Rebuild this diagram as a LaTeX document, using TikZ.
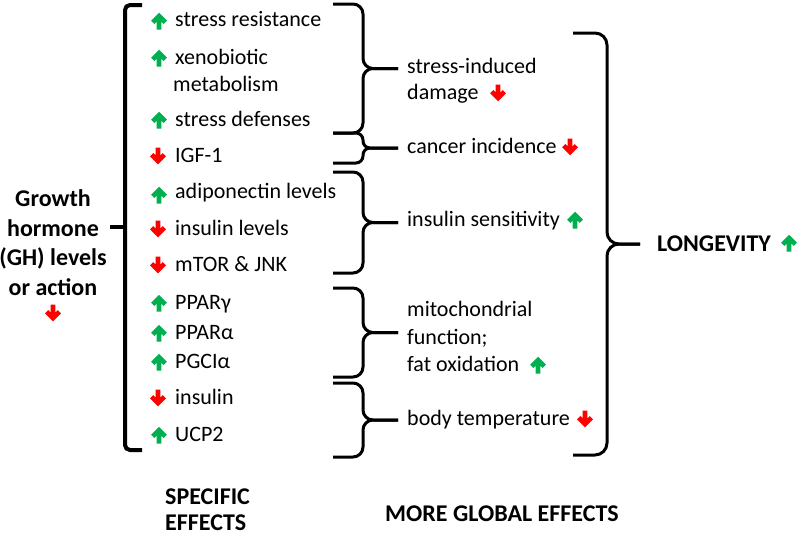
\documentclass[tikz,border=0pt]{standalone}
\usepackage{fontspec}
\setmainfont{Carlito}
\definecolor{upg}{RGB}{0,176,80}
\definecolor{dnr}{RGB}{255,0,0}
\tikzset{
  txt/.style={font=\fontsize{22}{26}\selectfont, inner sep=0pt, anchor=base west},
  bld/.style={font=\fontsize{24}{29}\selectfont\bfseries, inner sep=0pt, anchor=base west},
  bldc/.style={bld, anchor=base},
  brc/.style={line width=3pt, rounded corners=#1, line join=round},
  brk/.style={line width=4pt, rounded corners=5pt},
  uparr/.pic={\draw[upg, line width=4.6pt, line join=miter] (-6.3,-1.3) -- (0,5) -- (6.3,-1.3) (0,5) -- (0,-8.5);},
  dnarr/.pic={\draw[dnr, line width=4.6pt, line join=miter] (-6.3,1.3) -- (0,-5) -- (6.3,1.3) (0,-5) -- (0,8.5);}
}
% right-facing curly brace: x0, spine x, tip x, top y, bottom y, radius (y in px, downward)
\newcommand\rbr[6]{%
  \draw[brc=#6pt] (#1,-#4) -- (#2,-#4) -- (#2,{-(#4+#5)/2}) -- (#3,{-(#4+#5)/2});
  \draw[brc=#6pt] (#1,-#5) -- (#2,-#5) -- (#2,{-(#4+#5)/2}) -- (#3,{-(#4+#5)/2});
}
\begin{document}
\begin{tikzpicture}[x=1pt,y=1pt]
\useasboundingbox (0,0) rectangle (800,-536);

% left GH block
\node[bldc] (g1) at (53,-206) {Growth};
\node[bldc] (g2) at (53,-236) {hormone};
\node[bldc] (g3) at (53,-265) {(GH) levels};
\node[bldc] (g4) at (53,-295) {or action};
\pic at (53,-313) {dnarr};

% left bracket
\draw[brk] (142,-5) -- (125,-5) -- (125,-450) -- (142,-450);
\coordinate (gtick) at (110,-227);
\draw[line width=4pt] (125,-227) -- (gtick);

% specific effects
\pic at (159,-21) {uparr};  \node[txt] (s1) at (175,-26) {stress resistance};
\pic at (159,-58) {uparr};  \node[txt] (s2) at (175,-64) {xenobiotic};
                            \node[txt] (s2b) at (173,-91) {metabolism};
\pic at (159,-120) {uparr}; \node[txt] (s3) at (175,-126) {stress defenses};
\pic at (158,-156) {dnarr}; \node[txt] (s4) at (175,-162) {IGF-1};
\pic at (159,-195) {uparr}; \node[txt] (s5) at (175,-198) {adiponectin levels};
\pic at (158,-229) {dnarr}; \node[txt] (s6) at (175,-235) {insulin levels};
\pic at (158,-265) {dnarr}; \node[txt] (s7) at (175,-271) {mTOR \& JNK};
\pic at (159,-303) {uparr}; \node[txt] (s8) at (175,-309) {PPARγ};
\pic at (159,-333) {uparr}; \node[txt] (s9) at (175,-339) {PPARα};
\pic at (159,-362) {uparr}; \node[txt] (s10) at (175,-368) {PGCIα};
\pic at (158,-398) {dnarr}; \node[txt] (s11) at (175,-404) {insulin};
\pic at (159,-435) {uparr}; \node[txt] (s12) at (175,-441) {UCP2};

% middle braces
\rbr{333}{363}{398}{4}{133}{10}
\rbr{333}{363}{398}{133}{163}{7}
\rbr{333}{363}{398}{172}{273}{10}
\rbr{333}{363}{398}{288}{377}{10}
\rbr{333}{363}{398}{383}{457}{10}

% global effects
\node[txt] (m1) at (407,-73) {stress-induced};
\node[txt] (m1b) at (407,-99) {damage};
\pic at (498,-93) {dnarr};
\node[txt] (m2) at (407,-153) {cancer incidence};
\pic at (570,-147) {dnarr};
\node[txt] (m3) at (407,-226) {insulin sensitivity};
\pic at (575,-220) {uparr};
\node[txt] (m4) at (407,-316) {mitochondrial};
\node[txt] (m4b) at (407,-344) {function;};
\node[txt] (m4c) at (407,-371) {fat oxidation};
\pic at (538,-365) {uparr};
\node[txt] (m5) at (407,-425) {body temperature};
\pic at (585,-419) {dnarr};

% big brace
\rbr{573}{607}{640}{33}{455}{12}
\node[bld] (lg) at (657,-251) {LONGEVITY};
\pic at (789,-243) {uparr};

% footers
\node[bld] (f1) at (165,-504) {SPECIFIC};
\node[bld] (f1b) at (165,-530) {EFFECTS};
\node[bld] (f2) at (385,-521) {MORE GLOBAL EFFECTS};
\end{tikzpicture}
\end{document}
